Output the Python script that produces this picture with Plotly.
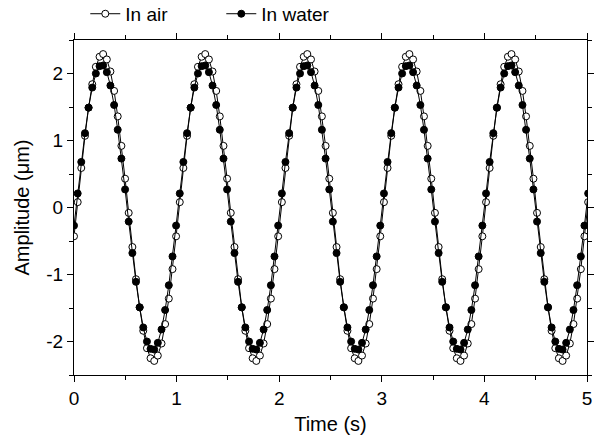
import plotly.graph_objects as go

# Time samples (s)
time_s = [
    0.000, 0.036, 0.071, 0.107, 0.142, 0.178, 0.213, 0.249, 0.284, 0.320, 0.355, 0.391, 0.426, 0.462,
    0.498, 0.533, 0.569, 0.604, 0.640, 0.675, 0.711, 0.746, 0.782, 0.817, 0.853, 0.888, 0.924, 0.960,
    0.995, 1.031, 1.066, 1.102, 1.137, 1.173, 1.208, 1.244, 1.279, 1.315, 1.350, 1.386, 1.421, 1.457,
    1.492, 1.528, 1.564, 1.599, 1.635, 1.670, 1.706, 1.741, 1.777, 1.812, 1.848, 1.883, 1.919, 1.954,
    1.990, 2.026, 2.061, 2.097, 2.132, 2.168, 2.203, 2.239, 2.274, 2.310, 2.345, 2.381, 2.416, 2.452,
    2.488, 2.523, 2.559, 2.594, 2.630, 2.665, 2.701, 2.736, 2.772, 2.807, 2.843, 2.878, 2.914, 2.950,
    2.985, 3.021, 3.056, 3.092, 3.127, 3.163, 3.198, 3.234, 3.269, 3.305, 3.340, 3.376, 3.411, 3.447,
    3.482, 3.518, 3.554, 3.589, 3.625, 3.660, 3.696, 3.731, 3.767, 3.802, 3.838, 3.873, 3.909, 3.944,
    3.980, 4.016, 4.051, 4.087, 4.122, 4.158, 4.193, 4.229, 4.264, 4.300, 4.335, 4.371, 4.406, 4.442,
    4.478, 4.513, 4.549, 4.584, 4.620, 4.655, 4.691, 4.726, 4.762, 4.797, 4.833, 4.868, 4.904, 4.940,
    4.975, 5.011,
]

# Amplitude in air (um)
amp_air = [
    -0.43, 0.08, 0.59, 1.07, 1.49, 1.84, 2.10, 2.25, 2.29, 2.21, 2.03, 1.74, 1.36, 0.92,
    0.43, -0.08, -0.59, -1.07, -1.49, -1.84, -2.10, -2.25, -2.29, -2.21, -2.03, -1.74, -1.36, -0.92,
    -0.43, 0.08, 0.59, 1.07, 1.49, 1.84, 2.10, 2.25, 2.29, 2.21, 2.03, 1.74, 1.36, 0.92,
    0.43, -0.08, -0.59, -1.07, -1.49, -1.84, -2.10, -2.25, -2.29, -2.21, -2.03, -1.74, -1.36, -0.92,
    -0.43, 0.08, 0.59, 1.07, 1.49, 1.84, 2.10, 2.25, 2.29, 2.21, 2.03, 1.74, 1.36, 0.92,
    0.43, -0.08, -0.59, -1.07, -1.49, -1.84, -2.10, -2.25, -2.29, -2.21, -2.03, -1.74, -1.36, -0.92,
    -0.43, 0.08, 0.59, 1.07, 1.49, 1.84, 2.10, 2.25, 2.29, 2.21, 2.03, 1.74, 1.36, 0.92,
    0.43, -0.08, -0.59, -1.07, -1.49, -1.84, -2.10, -2.25, -2.29, -2.21, -2.03, -1.74, -1.36, -0.92,
    -0.43, 0.08, 0.59, 1.07, 1.49, 1.84, 2.10, 2.25, 2.29, 2.21, 2.03, 1.74, 1.36, 0.92,
    0.43, -0.08, -0.59, -1.07, -1.49, -1.84, -2.10, -2.25, -2.29, -2.21, -2.03, -1.74, -1.36, -0.92,
    -0.43, 0.08,
]

# Amplitude in water (um)
amp_water = [
    -0.27, 0.21, 0.68, 1.11, 1.49, 1.79, 2.00, 2.11, 2.12, 2.02, 1.82, 1.53, 1.16, 0.73,
    0.27, -0.21, -0.68, -1.11, -1.49, -1.79, -2.00, -2.11, -2.12, -2.02, -1.82, -1.53, -1.16, -0.73,
    -0.27, 0.21, 0.68, 1.11, 1.49, 1.79, 2.00, 2.11, 2.12, 2.02, 1.82, 1.53, 1.16, 0.73,
    0.27, -0.21, -0.68, -1.11, -1.49, -1.79, -2.00, -2.11, -2.12, -2.02, -1.82, -1.53, -1.16, -0.73,
    -0.27, 0.21, 0.68, 1.11, 1.49, 1.79, 2.00, 2.11, 2.12, 2.02, 1.82, 1.53, 1.16, 0.73,
    0.27, -0.21, -0.68, -1.11, -1.49, -1.79, -2.00, -2.11, -2.12, -2.02, -1.82, -1.53, -1.16, -0.73,
    -0.27, 0.21, 0.68, 1.11, 1.49, 1.79, 2.00, 2.11, 2.12, 2.02, 1.82, 1.53, 1.16, 0.73,
    0.27, -0.21, -0.68, -1.11, -1.49, -1.79, -2.00, -2.11, -2.12, -2.02, -1.82, -1.53, -1.16, -0.73,
    -0.27, 0.21, 0.68, 1.11, 1.49, 1.79, 2.00, 2.11, 2.12, 2.02, 1.82, 1.53, 1.16, 0.73,
    0.27, -0.21, -0.68, -1.11, -1.49, -1.79, -2.00, -2.11, -2.12, -2.02, -1.82, -1.53, -1.16, -0.73,
    -0.27, 0.21,
]

x_ticks = [0, 1, 2, 3, 4, 5]
x_ticktext = ["0", "1", "2", "3", "4", "5"]
y_ticks = [-2, -1, 0, 1, 2]
y_ticktext = ["-2", "-1", "0", "1", "2"]

FONT = "Liberation Sans, Arial, sans-serif"

fig = go.Figure()
fig.add_trace(go.Scatter(
    x=time_s, y=amp_air, name="In air", mode="lines+markers",
    line=dict(color="black", width=1),
    marker=dict(symbol="circle", size=7, color="white", line=dict(color="black", width=1)),
))
fig.add_trace(go.Scatter(
    x=time_s, y=amp_water, name="In water", mode="lines+markers",
    line=dict(color="black", width=1),
    marker=dict(symbol="circle", size=7, color="black", line=dict(color="black", width=1)),
))

axis_common = dict(
    showline=True, linecolor="black", linewidth=1.2, mirror="ticks",
    ticks="outside", ticklen=6, tickwidth=1, tickcolor="black",
    showgrid=False, zeroline=False, automargin=False,
    tickfont=dict(family=FONT, size=19, color="black"),
)

fig.update_xaxes(
    range=[0, 5], tickvals=x_ticks, ticktext=x_ticktext,
    title=dict(text="Time (s)", font=dict(family=FONT, size=20, color="black"), standoff=9),
    minor=dict(dtick=0.5, tick0=0, ticks="outside", ticklen=4, tickcolor="black", showgrid=False),
    **axis_common,
)
fig.update_yaxes(
    range=[-2.5, 2.5], tickvals=y_ticks, ticktext=y_ticktext,
    title=dict(text="Amplitude (μm)", font=dict(family=FONT, size=20, color="black"), standoff=11),
    minor=dict(dtick=0.5, tick0=0, ticks="outside", ticklen=4, tickcolor="black", showgrid=False),
    **axis_common,
)

fig.update_layout(
    width=595, height=441,
    margin=dict(l=74, r=8, t=40, b=66, autoexpand=False),
    plot_bgcolor="white", paper_bgcolor="white",
    font=dict(family=FONT, size=19, color="black"),
    showlegend=True,
    legend=dict(
        orientation="h", x=0.022, y=1.078, xanchor="left", yanchor="middle",
        font=dict(family=FONT, size=19, color="black"),
        bgcolor="rgba(0,0,0,0)", entrywidth=91, entrywidthmode="pixels",
        itemwidth=30,
    ),
)

fig.write_html("out.html", config={"displayModeBar": False},
               post_script="document.body.style.margin='0';")
